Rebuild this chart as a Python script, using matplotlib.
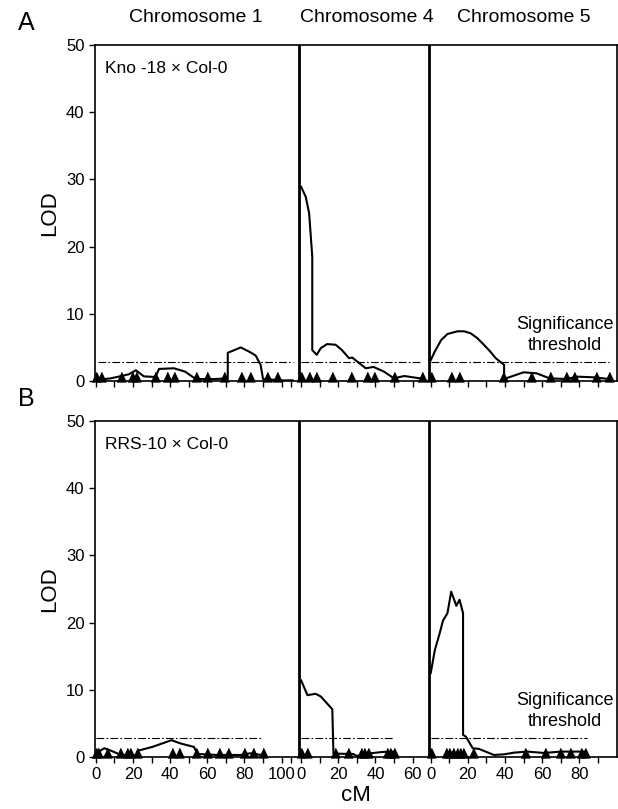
import matplotlib
matplotlib.use("Agg")
import matplotlib.pyplot as plt

plt.rcParams["font.family"] = ["Liberation Sans", "DejaVu Sans"]

# ---- chromosome layout on a shared cM axis ----
CHROMS = ["Chromosome 1", "Chromosome 4", "Chromosome 5"]
OFFSETS = [0, 110.5, 180.3]        # where each chromosome's 0 cM sits
BOUNDARIES = [109.2, 179.6]        # separator lines
X_MAX = 280.6
TICK_LABELS = [[0, 20, 40, 60, 80, 100], [0, 20, 40, 60], [0, 20, 40, 60, 80]]
MINOR_TICKS = [[10, 30, 50, 70, 90, 105], [10, 30, 50], [10, 30, 50, 70, 90]]
THRESHOLD = 2.8

# ---- panel A: Kno-18 x Col-0 ----
A1_CM = [0, 8, 17.7, 21.5, 25.8, 32, 34, 42, 48, 52.7, 56, 64, 71, 71, 78, 83, 86, 88.7, 90, 100, 106]
A1_LOD = [0.15, 0.4, 1.0, 1.6, 0.7, 0.6, 1.8, 1.9, 1.4, 0.5, 0.3, 0.3, 0.4, 4.2, 5.0, 4.3, 3.8, 2.4, 0.3, 0.1, 0.1]
A4_CM = [0, 2.5, 4.3, 6, 6, 8.4, 10.6, 14, 18.6, 22, 25.8, 27.5, 34.8, 39, 44.6, 50, 55.5, 64]
A4_LOD = [28.9, 27.4, 25.0, 18.5, 4.6, 3.9, 4.9, 5.5, 5.4, 4.6, 3.4, 3.5, 1.9, 2.1, 1.4, 0.4, 0.75, 0.4]
A5_CM = [0, 2, 5.6, 9, 14.4, 18, 21.5, 25, 28.6, 32, 35, 39.5, 39.5, 40.5, 50, 57, 64, 73, 79, 88, 96]
A5_LOD = [3.1, 4.3, 6.1, 7.0, 7.4, 7.4, 7.1, 6.4, 5.4, 4.4, 3.4, 2.4, 0.4, 0.4, 1.3, 1.15, 0.4, 0.3, 0.65, 0.55, 0.3]
A_MARKERS = [
    [0, 3, 13.5, 19.7, 21.5, 32, 38.5, 42, 54, 60, 69, 78, 83, 92, 97.7],
    [0, 4, 8, 16.6, 26.7, 35.5, 39, 50, 65],
    [0, 10.7, 15, 39, 54, 64, 73, 77, 89, 96],
]
A_THR_SPAN = [(1, 106), (0, 65), (0, 96)]

# ---- panel B: RRS-10 x Col-0 ----
B1_CM = [0, 4.5, 8, 13.4, 22, 22.8, 30.4, 40.7, 45.7, 52.8, 54.6, 65, 78, 83, 89]
B1_LOD = [0.55, 1.3, 0.95, 0.3, 0.2, 0.95, 1.5, 2.5, 2.0, 1.5, 0.45, 0.3, 0.3, 0.55, 0.3]
B4_CM = [0, 3.4, 7.8, 10.6, 16.8, 17.4, 28, 30, 34, 44, 50]
B4_LOD = [11.4, 9.2, 9.4, 9.0, 7.1, 0.5, 0.45, 0.15, 0.45, 0.75, 0.8]
B5_CM = [0, 2.2, 4.8, 6.6, 9, 11, 13.8, 15.5, 17.4, 17.4, 19, 22.6, 26, 34, 39.6, 45, 52, 61, 70, 77, 83.5]
B5_LOD = [12.5, 15.9, 18.4, 20.3, 21.4, 24.6, 22.5, 23.4, 21.4, 3.3, 3.0, 1.3, 1.2, 0.3, 0.4, 0.65, 0.8, 0.6, 0.8, 0.8, 0.8]
B_MARKERS = [
    [0, 1, 6, 13, 17, 18.5, 22, 41, 45, 54, 60, 66.5, 71, 80, 84.5, 90],
    [0, 3, 18, 25, 32, 34, 36, 46, 48, 50],
    [0, 8, 10, 12, 14, 16, 17.5, 22.6, 51, 61.5, 69.6, 75, 81, 83],
]
B_THR_SPAN = [(0, 89), (0, 50), (0, 84)]

TRIANGLE = [(-0.5, -0.05), (0.5, -0.05), (0, 1)]


def draw_panel(ax, curves, markers, thr_spans, cross, letter, show_labels):
    for k, (cm, lod) in enumerate(curves):
        ax.plot([c + OFFSETS[k] for c in cm], lod, color="black", lw=1.5)
        ax.plot([c + OFFSETS[k] for c in markers[k]], [0] * len(markers[k]),
                ls="none", marker=TRIANGLE, ms=13, color="black", clip_on=False, zorder=5)
        a, b = thr_spans[k]
        ax.plot([a + OFFSETS[k], b + OFFSETS[k]], [THRESHOLD, THRESHOLD],
                color="black", lw=0.8, ls=(0, (7, 2, 1.5, 2)))
    for xb in BOUNDARIES:
        ax.axvline(xb, color="black", lw=2)

    ax.set_xlim(-0.5, X_MAX)
    ax.set_ylim(0, 50)
    ax.set_yticks([0, 10, 20, 30, 40, 50])
    major, minor, labels = [], [], []
    for k in range(3):
        for t in TICK_LABELS[k]:
            major.append(t + OFFSETS[k])
            labels.append(str(t))
        minor += [t + OFFSETS[k] for t in MINOR_TICKS[k]]
    ax.set_xticks(major)
    ax.set_xticks(minor, minor=True)
    ax.set_xticklabels(labels if show_labels else [])
    ax.tick_params(direction="out", length=4, width=1, labelsize=12)
    ax.tick_params(which="minor", direction="out", length=4, width=1)
    for sp in ax.spines.values():
        sp.set_linewidth(1.2)
    ax.set_ylabel("LOD", fontsize=16, labelpad=4)
    ax.text(0.02, 0.93, cross, transform=ax.transAxes, fontsize=12.5, va="center")
    ax.text(0.9, 0.137, "Significance\nthreshold", transform=ax.transAxes,
            fontsize=13, ha="center", va="center", linespacing=1.3)
    ax.text(-0.148, 1.065, letter, transform=ax.transAxes, fontsize=18, va="center")


fig = plt.figure(figsize=(6.18, 8.09), dpi=100)
ax_a = fig.add_axes([0.1537, 0.529, 0.8447, 0.4154])
ax_b = fig.add_axes([0.1537, 0.0643, 0.8447, 0.4153])

draw_panel(ax_a, [(A1_CM, A1_LOD), (A4_CM, A4_LOD), (A5_CM, A5_LOD)],
           A_MARKERS, A_THR_SPAN, "Kno -18 × Col-0", "A", False)
draw_panel(ax_b, [(B1_CM, B1_LOD), (B4_CM, B4_LOD), (B5_CM, B5_LOD)],
           B_MARKERS, B_THR_SPAN, "RRS-10 × Col-0", "B", True)

centers = [196, 367, 524]
for name, cx in zip(CHROMS, centers):
    fig.text(cx / 618, 1 - 18 / 809, name, fontsize=14, ha="center", va="center")
ax_b.set_xlabel("cM", fontsize=16, labelpad=2)

fig.savefig("out.png", dpi=100)
